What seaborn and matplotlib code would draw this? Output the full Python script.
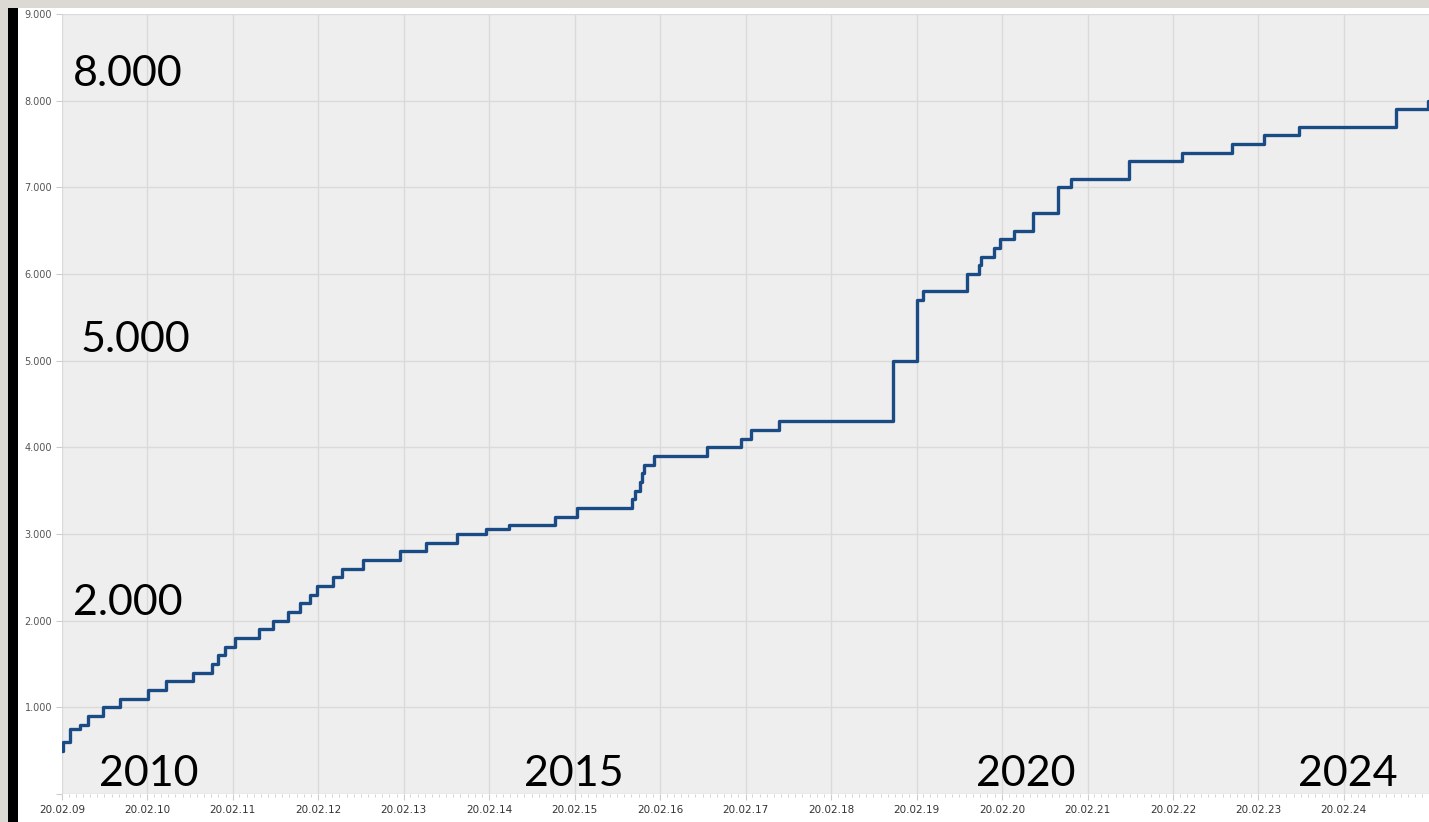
import pandas as pd
import matplotlib
matplotlib.use("Agg")
import matplotlib.pyplot as plt
import matplotlib.dates as mdates
from matplotlib.patches import Rectangle
from matplotlib.ticker import FuncFormatter, MultipleLocator
import seaborn as sns

# step dates and cumulative values
dates = [
    "2009-02-20", "2009-02-24", "2009-03-26", "2009-05-08", "2009-06-11",
    "2009-08-14", "2009-10-26", "2010-02-23", "2010-05-11", "2010-09-03",
    "2010-11-24", "2010-12-19", "2011-01-18", "2011-03-02", "2011-06-13",
    "2011-08-12", "2011-10-15", "2011-12-05", "2012-01-17", "2012-02-16",
    "2012-04-24", "2012-06-02", "2012-08-31", "2013-02-05", "2013-05-27",
    "2013-10-07", "2014-02-04", "2014-05-17", "2014-11-30", "2015-03-04",
    "2015-10-25", "2015-11-03", "2015-11-24", "2015-12-03", "2015-12-12",
    "2016-01-23", "2016-09-06", "2017-01-29", "2017-03-13", "2017-07-11",
    "2018-11-10", "2019-02-21", "2019-03-18", "2019-09-22", "2019-11-13",
    "2019-11-21", "2020-01-16", "2020-02-10", "2020-04-10", "2020-07-01",
    "2020-10-16", "2020-12-10", "2021-08-16", "2022-03-31", "2022-10-31",
    "2023-03-17", "2023-08-14", "2024-10-02", "2025-02-14", "2025-03-10",
]
values = [
    500, 600, 750, 800, 900,
    1000, 1100, 1200, 1300, 1400,
    1500, 1600, 1700, 1800, 1900,
    2000, 2100, 2200, 2300, 2400,
    2500, 2600, 2700, 2800, 2900,
    3000, 3060, 3100, 3200, 3300,
    3400, 3500, 3600, 3700, 3800,
    3900, 4000, 4100, 4200, 4300,
    5000, 5700, 5800, 6000, 6100,
    6200, 6300, 6400, 6500, 6700,
    7000, 7100, 7300, 7400, 7500,
    7600, 7700, 7900, 8000, 8000,
]

# big overlay labels
level_labels = ["8.000", "5.000", "2.000"]
year_labels = ["2010", "2015", "2020", "2024"]

df = pd.DataFrame({"date": pd.to_datetime(dates), "count": values})

sns.set_theme(style="whitegrid")
plt.rcParams["font.family"] = ["DejaVu Sans"]

fig = plt.figure(figsize=(14.29, 8.22), dpi=100)
fig.patch.set_facecolor("white")

# frame strips from the slide
fig.patches.append(Rectangle((0, 1 - 8 / 822), 1, 8 / 822, transform=fig.transFigure,
                             facecolor="#dcd9d4", edgecolor="none", zorder=-2))
fig.patches.append(Rectangle((0, 0), 8 / 1429, 1, transform=fig.transFigure,
                             facecolor="#dcd9d4", edgecolor="none", zorder=-2))
fig.patches.append(Rectangle((8 / 1429, 0), 10 / 1429, 1 - 8 / 822, transform=fig.transFigure,
                             facecolor="black", edgecolor="none", zorder=-1))

ax = fig.add_axes([62 / 1429, 1 - 794 / 822, 1 - 62 / 1429, 780 / 822])
ax.set_facecolor("#eeeeee")

sns.lineplot(data=df, x="date", y="count", ax=ax, drawstyle="steps-post",
             color="#1a4b85", linewidth=2.4, legend=False)

ax.set_xlim(pd.Timestamp("2009-02-20"), pd.Timestamp("2025-02-18"))
ax.set_ylim(0, 9000)

ax.yaxis.set_major_locator(MultipleLocator(1000))
ax.yaxis.set_major_formatter(FuncFormatter(
    lambda v, p: "" if v == 0 else f"{int(v):,}".replace(",", ".")))
ax.xaxis.set_major_locator(mdates.YearLocator(base=1, month=2, day=20))
ax.xaxis.set_minor_locator(mdates.MonthLocator(bymonthday=20))
ax.xaxis.set_major_formatter(mdates.DateFormatter("%d.%m.%y"))

ax.grid(True, which="major", color="#dadada", linewidth=1.0)
ax.grid(False, which="minor")
for s in ax.spines.values():
    s.set_visible(False)

ax.tick_params(axis="y", which="major", length=4, width=0.8, color="#cccccc",
               labelsize=7, labelcolor="#555555", pad=3, left=True)
ax.tick_params(axis="x", which="major", length=4, width=0.8, color="#cccccc",
               labelsize=7.5, labelcolor="#333333", pad=4, bottom=True)
ax.tick_params(axis="x", which="minor", length=2, width=0.6, color="#cccccc", bottom=True)
ax.set_xlabel("")
ax.set_ylabel("")

# overlay annotations
big = dict(fontsize=31, color="black", family=["Lato", "DejaVu Sans"],
           ha="left", va="baseline")
for txt, x, y in zip(level_labels, [73, 81, 73], [86, 352, 615]):
    fig.text(x / 1429, 1 - y / 822, txt, **big)
for txt, x in zip(year_labels, [99, 524, 976, 1298]):
    fig.text(x / 1429, 1 - 786 / 822, txt, **big)

fig.savefig("out.png", dpi=100)
